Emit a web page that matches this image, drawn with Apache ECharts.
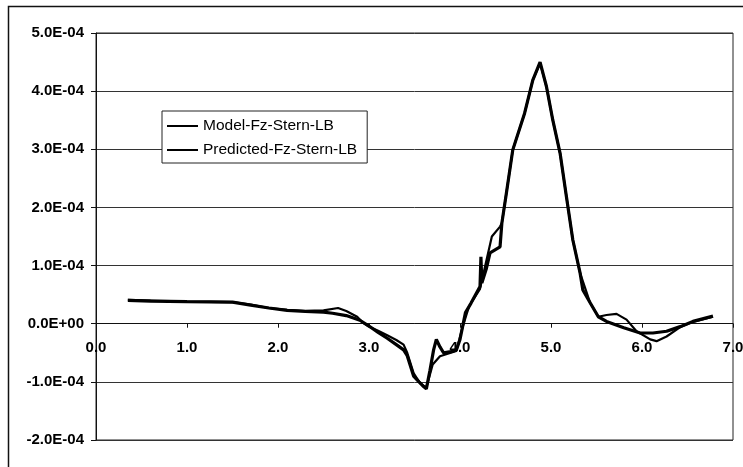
<!DOCTYPE html>
<html>
<head>
<meta charset="utf-8">
<script src="https://cdn.jsdelivr.net/npm/echarts@6/dist/echarts.min.js"></script>
<style>
  html, body { margin: 0; padding: 0; background: #fff; }
  #main { width: 743px; height: 467px; }
</style>
</head>
<body>
<div id="main"></div>
<script>
// values in units of 1E-04
var seriesNames = ['Model-Fz-Stern-LB', 'Predicted-Fz-Stern-LB'];

var modelData = [
  [0.35, 0.40], [0.6, 0.39], [1.0, 0.38], [1.5, 0.37], [1.7, 0.32], [1.9, 0.27],
  [2.1, 0.23], [2.3, 0.21], [2.5, 0.20], [2.6, 0.18], [2.75, 0.14], [2.9, 0.06],
  [3.0, -0.04], [3.1, -0.15], [3.2, -0.25], [3.3, -0.36], [3.38, -0.45], [3.42, -0.55],
  [3.49, -0.90], [3.55, -1.00], [3.6, -1.08], [3.63, -1.12], [3.67, -0.80], [3.71, -0.45],
  [3.74, -0.27], [3.78, -0.40], [3.82, -0.50], [3.9, -0.48], [3.96, -0.45], [4.0, -0.27],
  [4.06, 0.19], [4.12, 0.35], [4.22, 0.64], [4.23, 1.15], [4.24, 0.70], [4.29, 0.95],
  [4.33, 1.22], [4.44, 1.32], [4.46, 1.73], [4.51, 2.25], [4.58, 2.99], [4.71, 3.62],
  [4.8, 4.19], [4.88, 4.50], [4.95, 4.08], [5.02, 3.50], [5.1, 2.93], [5.17, 2.18],
  [5.24, 1.44], [5.32, 0.87], [5.35, 0.58], [5.43, 0.36], [5.52, 0.12], [5.61, 0.04],
  [5.8, -0.07], [5.98, -0.16], [6.12, -0.16], [6.27, -0.13], [6.42, -0.05], [6.56, 0.04],
  [6.78, 0.13]
];

var predictedData = [
  [0.35, 0.41], [1.0, 0.38], [1.5, 0.37], [1.7, 0.33], [1.9, 0.27], [2.1, 0.24],
  [2.3, 0.22], [2.5, 0.23], [2.66, 0.27], [2.75, 0.22], [2.87, 0.12], [2.93, 0.02],
  [3.0, -0.05], [3.1, -0.12], [3.2, -0.20], [3.3, -0.28], [3.38, -0.36], [3.42, -0.50],
  [3.49, -0.85], [3.56, -1.02], [3.63, -1.10], [3.7, -0.70], [3.78, -0.56], [3.9, -0.50],
  [3.96, -0.47], [4.03, -0.05], [4.1, 0.30], [4.22, 0.60], [4.35, 1.50], [4.44, 1.67],
  [4.46, 1.73], [4.51, 2.25], [4.58, 2.99], [4.71, 3.62], [4.8, 4.19], [4.88, 4.48],
  [4.95, 4.08], [5.02, 3.50], [5.1, 2.93], [5.17, 2.18], [5.24, 1.44], [5.32, 0.87],
  [5.43, 0.36], [5.52, 0.12], [5.61, 0.15], [5.72, 0.17], [5.83, 0.07], [5.94, -0.13],
  [6.09, -0.27], [6.16, -0.30], [6.27, -0.22], [6.42, -0.06], [6.56, 0.03], [6.78, 0.12]
];

var xTicks = [0, 1, 2, 3, 4, 5, 6, 7];
var yTickLabels = ['-2.0E-04', '-1.0E-04', '0.0E+00', '1.0E-04', '2.0E-04', '3.0E-04', '4.0E-04', '5.0E-04'];

var gridTop = 33, gridBottom = 27, chartH = 467;
var yMin = -2, yMax = 5;
// lift the x axis up to the zero line (Excel-style crossing)
var plotH = chartH - gridTop - gridBottom;
var zeroLift = plotH * (0 - yMin) / (yMax - yMin);

var chart = echarts.init(document.getElementById('main'));
chart.setOption({
  animation: false,
  backgroundColor: '#fff',
  graphic: [{
    type: 'rect',
    shape: { x: 8.5, y: 6.5, width: 800, height: 500 },
    style: { fill: 'none', stroke: '#111', lineWidth: 1.5 },
    silent: true
  }],
  grid: {
    left: 96, right: 10, top: gridTop, bottom: gridBottom,
    outerBoundsMode: 'none', containLabel: false,
    show: true, borderColor: '#222', borderWidth: 1
  },
  legend: {
    data: seriesNames,
    orient: 'vertical',
    left: 162, top: 111,
    padding: [7, 10, 5, 5],
    itemGap: 8,
    itemWidth: 31, itemHeight: 2,
    icon: 'rect',
    backgroundColor: '#fff',
    borderColor: '#222', borderWidth: 1,
    borderRadius: 0,
    textStyle: { fontFamily: 'Liberation Sans, Arial', fontSize: 15.5, color: '#000' }
  },
  xAxis: {
    type: 'value',
    min: xTicks[0], max: xTicks[xTicks.length - 1], interval: 1,
    offset: -zeroLift,
    axisLine: { onZero: false, lineStyle: { color: '#111', width: 1 } },
    axisTick: { show: true, length: 4, lineStyle: { color: '#111' } },
    splitLine: { show: false },
    axisLabel: {
      margin: 17,
      fontFamily: 'Liberation Sans, Arial', fontWeight: 'bold', fontSize: 15, color: '#000',
      formatter: function (v) { return v.toFixed(1); }
    }
  },
  yAxis: {
    type: 'value',
    min: yMin, max: yMax, interval: 1,
    axisLine: { show: true, onZero: false, lineStyle: { color: '#111', width: 1 } },
    axisTick: { show: true, length: 5, lineStyle: { color: '#111' } },
    splitLine: { show: true, lineStyle: { color: '#333', width: 1 } },
    axisLabel: {
      margin: 12,
      fontFamily: 'Liberation Sans, Arial', fontWeight: 'bold', fontSize: 15, color: '#000',
      formatter: function (v) { return yTickLabels[Math.round(v) - yMin]; }
    }
  },
  series: [
    {
      name: seriesNames[0], type: 'line', data: modelData,
      showSymbol: false, symbol: 'none',
      lineStyle: { color: '#000', width: 3.2 },
      itemStyle: { color: '#000' }
    },
    {
      name: seriesNames[1], type: 'line', data: predictedData,
      showSymbol: false, symbol: 'none',
      lineStyle: { color: '#000', width: 2.2 },
      itemStyle: { color: '#000' }
    }
  ]
});
</script>
</body>
</html>
